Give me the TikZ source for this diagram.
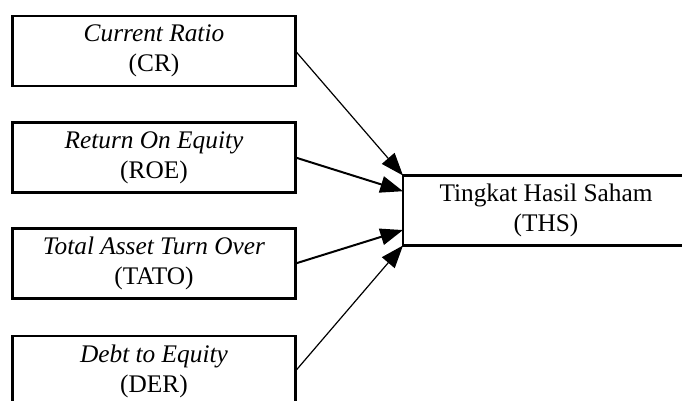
\documentclass[tikz,border=0pt]{standalone}
\usepackage{fontspec}
\setmainfont{Liberation Serif}
\usetikzlibrary{arrows.meta}
\begin{document}
\begin{tikzpicture}[x=0.75pt,y=-0.75pt,
  varbox/.style={draw, line width=1.65pt, minimum width=212.25pt, minimum height=52.5pt,
    align=center, inner sep=2pt, outer sep=0pt, font=\fontsize{19}{22.5}\selectfont},
  thinarrow/.style={-{Triangle[length=17pt,width=12.5pt]}, line width=0.9pt},
  thickarrow/.style={-{Triangle[length=17pt,width=12.5pt]}, line width=1.5pt}]
\useasboundingbox (0,0) rectangle (682,400);
\clip (0,0) rectangle (682,400);
\node[varbox] (cr) at (154,51) {\textit{Current Ratio}\\(CR)};
\node[varbox] (roe) at (154,157.5) {\textit{Return On Equity}\\(ROE)};
\node[varbox] (tato) at (154,263.5) {\textit{Total Asset Turn Over}\\(TATO)};
\node[varbox] (der) at (154,371) {\textit{Debt to Equity}\\(DER)};
\node[varbox, minimum width=214.5pt] (ths) at (546,210.5) {Tingkat Hasil Saham\\(THS)};
\draw[thinarrow] (cr.east) -- (ths.north west);
\draw[thickarrow] (roe.east) -- ([yshift=-11.8pt]ths.north west);
\draw[thickarrow] (tato.east) -- ([yshift=11.6pt]ths.south west);
\draw[thinarrow] (der.east) -- (ths.south west);
\end{tikzpicture}
\end{document}
